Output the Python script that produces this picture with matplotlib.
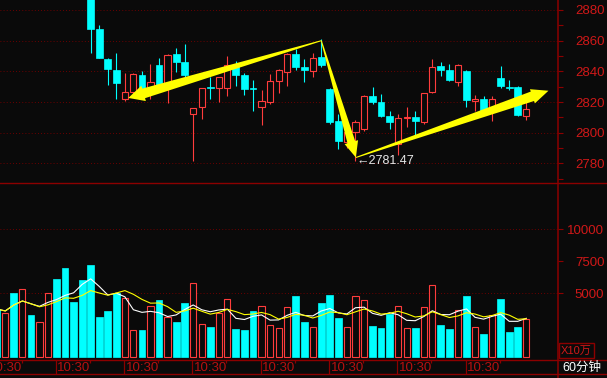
import numpy as np
import pandas as pd
import matplotlib
matplotlib.use("Agg")
import matplotlib.pyplot as plt
from matplotlib.patches import Rectangle, Polygon
from matplotlib.lines import Line2D
from matplotlib.transforms import IdentityTransform

# 60 minute bars, index -1 is only a sliver at the left edge,
# bars -1..9 sit above the visible price range
bar_idx = list(range(-1, 62))
opens = [2925, 2915, 2921, 2910, 2921, 2914, 2918, 2925, 2912, 2901, 2897,
         2890, 2867.6, 2848.1, 2840.9, 2822.2, 2826.8, 2837.7, 2828.3, 2844.2, 2832.2,
         2851.3, 2846.1, 2812.1, 2816.6, 2829.8, 2829.0, 2829.0, 2844.0, 2837.7, 2829.2,
         2817.0, 2820.3, 2833.7, 2839.8, 2851.3, 2842.9, 2840.5, 2849.4, 2828.5, 2807.7,
         2794.2, 2800.3, 2802.3, 2823.8, 2819.9, 2810.9, 2792.7, 2809.6, 2810.3, 2807.2,
         2826.4, 2843.5, 2840.9, 2833.3, 2840.3, 2820.5, 2822.0, 2816.4, 2835.7, 2829.8,
         2829.8, 2811.1]
highs = [2928, 2924, 2923, 2926, 2924, 2921, 2929, 2927, 2914, 2904, 2899,
         2893, 2870.2, 2848.7, 2852.0, 2839.2, 2838.8, 2840.3, 2844.8, 2848.7, 2851.0,
         2855.2, 2857.8, 2816.4, 2829.2, 2836.2, 2836.4, 2850.0, 2847.0, 2839.0, 2834.4,
         2827.9, 2838.3, 2841.6, 2852.0, 2854.6, 2848.1, 2852.0, 2861.1, 2829.5, 2812.0,
         2801.0, 2808.3, 2824.4, 2829.8, 2825.3, 2814.2, 2812.2, 2816.8, 2814.2, 2826.0,
         2848.1, 2846.1, 2844.8, 2844.5, 2840.8, 2824.6, 2824.0, 2824.0, 2843.5, 2834.4,
         2830.5, 2820.1]
lows = [2912, 2911, 2907, 2908, 2911, 2912, 2915, 2909, 2897, 2893, 2888,
        2852.0, 2848.5, 2831.3, 2822.2, 2820.9, 2823.0, 2826.0, 2822.2, 2828.0, 2819.6,
        2839.8, 2836.4, 2781.8, 2808.8, 2822.2, 2820.3, 2824.2, 2830.5, 2824.6, 2814.4,
        2805.3, 2819.0, 2826.1, 2830.5, 2841.1, 2833.1, 2836.4, 2842.9, 2806.0, 2789.6,
        2790.0, 2781.47, 2801.0, 2819.0, 2810.5, 2802.7, 2785.7, 2804.0, 2798.6, 2806.0,
        2826.0, 2837.2, 2833.7, 2830.5, 2816.8, 2814.2, 2812.5, 2807.9, 2829.2, 2827.9,
        2811.0, 2808.5]
closes = [2915, 2920, 2910, 2922, 2914, 2918, 2926, 2912, 2900, 2896, 2889,
          2867.6, 2848.9, 2841.8, 2832.6, 2826.4, 2838.3, 2829.4, 2833.1, 2831.1, 2850.7,
          2846.3, 2837.7, 2816.2, 2829.0, 2829.4, 2836.2, 2844.0, 2837.7, 2828.8, 2828.6,
          2820.7, 2833.7, 2840.9, 2851.3, 2843.1, 2840.9, 2848.5, 2844.2, 2807.2, 2794.9,
          2800.7, 2807.2, 2823.8, 2820.3, 2811.1, 2807.2, 2809.4, 2810.0, 2807.9, 2825.7,
          2842.7, 2841.1, 2834.4, 2844.2, 2821.4, 2822.0, 2814.2, 2822.0, 2830.5, 2829.4,
          2811.8, 2815.5]
# volume in units of 10万
volumes = [3777, 3466, 5023, 5335, 3310, 2765, 5023, 6113, 6970, 4322, 6036,
           7204, 3154, 3621, 5023, 4634, 2142, 2142, 4011, 4478, 3154,
           2765, 4245, 5802, 2609, 2375, 3466, 4556, 2220, 2142, 3621,
           4011, 2531, 2297, 3933, 4790, 2765, 2375, 4245, 4868, 3076,
           2375, 4790, 4478, 2453, 2297, 3388, 4011, 2297, 2297, 3933,
           5646, 2531, 2220, 3699, 4790, 2375, 1830, 3310, 4556, 1986,
           2375, 2998]

price_ticks = [2780, 2800, 2820, 2840, 2860, 2880]
vol_ticks = [5000, 7500, 10000]
vol_grid = [5000, 10000]
day_marks = [-2, 6, 14, 22, 30, 38, 46, 54]
time_label = "10:30"
low_bar, low_price = 41, 2781.47
# hand drawn trend arrows: (bar index, price)
trend_pts = [(14.4, 2822.7), (37.0, 2860.0), (41.05, 2783.9), (63.6, 2827.4)]

bg = "#0a0a0a"
red = "#ff3c3c"
cyan = "#00ffff"
frame = "#8c0000"
txt_red = "#d01818"
grid_red = "#760000"

W, H = 607, 378
plt.rcParams["font.family"] = ["Liberation Sans", "Noto Sans CJK SC", "DejaVu Sans"]

fig = plt.figure(figsize=(W / 100, H / 100), dpi=100, facecolor=bg)


def px_axes(top, bottom, right=557.7):
    ax = fig.add_axes([0, 1 - bottom / H, right / W, (bottom - top) / H])
    ax.set_facecolor(bg)
    for s in ax.spines.values():
        s.set_visible(False)
    ax.set_xlim(-0.62, 64.68)
    ax.set_xticks([])
    return ax


ax_p = px_axes(0, 183.3)
ax_v = px_axes(183.3, 360)
ax_t = px_axes(360, 374.3)

ax_p.set_ylim(2767.1, 2886.5)
ax_v.set_ylim(-211, 13594)
ax_t.set_ylim(0, 1)
ax_t.set_yticks([])

# candles
for x, o, h, l, c in zip(bar_idx, opens, highs, lows, closes):
    if c >= o:
        ax_p.vlines(x, l, h, color=red, lw=0.8, zorder=2)
        ax_p.add_patch(Rectangle((x - 0.36, o), 0.72, c - o, facecolor=bg,
                                 edgecolor=red, lw=0.8, zorder=3))
    else:
        ax_p.vlines(x, l, h, color=cyan, lw=0.8, zorder=2)
        ax_p.add_patch(Rectangle((x - 0.4, c), 0.8, o - c, facecolor=cyan,
                                 edgecolor=cyan, lw=0.5, zorder=3))

# volume bars
for x, o, c, v in zip(bar_idx, opens, closes, volumes):
    if c >= o:
        ax_v.add_patch(Rectangle((x - 0.36, 0), 0.72, v, facecolor=bg,
                                 edgecolor=red, lw=0.8, zorder=3))
    else:
        ax_v.add_patch(Rectangle((x - 0.4, 0), 0.8, v, facecolor=cyan,
                                 edgecolor=cyan, lw=0.5, zorder=3))

vol = pd.Series(volumes, index=bar_idx)
ax_v.plot(bar_idx, vol.rolling(5, min_periods=1).mean(), color="white", lw=0.8, zorder=4)
ax_v.plot(bar_idx, vol.rolling(10, min_periods=1).mean(), color="#ffff00", lw=0.8, zorder=4)

# dotted grid
for p in price_ticks:
    ax_p.axhline(p, color=grid_red, lw=0.75, dashes=(0.8, 2.2), zorder=1)
for v in vol_grid:
    ax_v.axhline(v, color=grid_red, lw=0.75, dashes=(0.8, 2.2), zorder=1)

# right hand scales
ax_p.yaxis.tick_right()
ax_p.set_yticks(price_ticks)
ax_p.set_yticks(np.arange(2770, 2886, 10), minor=True)
ax_v.yaxis.tick_right()
ax_v.set_yticks(vol_ticks)
for ax in (ax_p, ax_v):
    ax.tick_params(axis="y", which="both", direction="out", length=3.6, width=0.8,
                   color=frame, labelcolor=txt_red, labelsize=9.5, pad=30)
    plt.setp(ax.get_yticklabels(), ha="right")

# time strip
for d in day_marks:
    ax_t.vlines(d - 0.1, 0, 1, color=frame, lw=0.9)
    ax_t.annotate(time_label, (d - 0.1, 0.45), xytext=(1.5, 0), textcoords="offset pixels",
                  ha="left", va="center", color="#b81010", fontsize=9.5,
                  annotation_clip=False, clip_on=True)
    ax_t.vlines([d + 4 - 0.1], 0.8, 1, color=frame, lw=0.9)

# lowest price marker
ax_p.annotate("\u2190" + f"{low_price:.2f}", (low_bar, low_price), xytext=(1, 0),
              textcoords="offset pixels", ha="left", va="center", color="#e8e8e8",
              fontsize=9, zorder=9)


def fat_arrow(ax, start, end, shaft, head_w, head_len):
    p0 = ax.transData.transform(start)
    p1 = ax.transData.transform(end)
    d = p1 - p0
    u = d / np.hypot(*d)
    n = np.array([-u[1], u[0]])
    base = p1 - u * head_len
    pts = [p0 + n * 0.5, base + n * shaft / 2, base + n * head_w / 2, p1,
           base - n * head_w / 2, base - n * shaft / 2, p0 - n * 0.5]
    ax.add_patch(Polygon(pts, closed=True, transform=IdentityTransform(),
                         facecolor="#ffff00", edgecolor="none", zorder=8, clip_on=False))


fat_arrow(ax_p, trend_pts[1], trend_pts[0], 10, 16, 16)
fat_arrow(ax_p, trend_pts[1], trend_pts[2], 8, 14, 16)
fat_arrow(ax_p, trend_pts[2], trend_pts[3], 10, 15, 17)


# frame lines in pixel units
def fig_line(xs, ys, lw=1.0):
    fig.add_artist(Line2D([x / W for x in xs], [1 - y / H for y in ys], color=frame, lw=lw))


fig_line([0, W], [183.3, 183.3])
fig_line([0, W], [360, 360])
fig_line([0, W], [374.3, 374.3])
fig_line([557.7, 557.7], [0, H], lw=1.1)

# unit box and period label
fig.add_artist(Rectangle((559 / W, 1 - 358.3 / H), 35.3 / W, 15 / H, transform=fig.transFigure,
                         facecolor="none", edgecolor=frame, lw=1.0))
fig.text(576.5 / W, 1 - 350.8 / H, "X10万", color=txt_red, fontsize=8,
         ha="center", va="center")
fig.text(582 / W, 1 - 367.5 / H, "60分钟", color="white", fontsize=9,
         ha="center", va="center")

fig.savefig("out.png", dpi=100, facecolor=bg)
